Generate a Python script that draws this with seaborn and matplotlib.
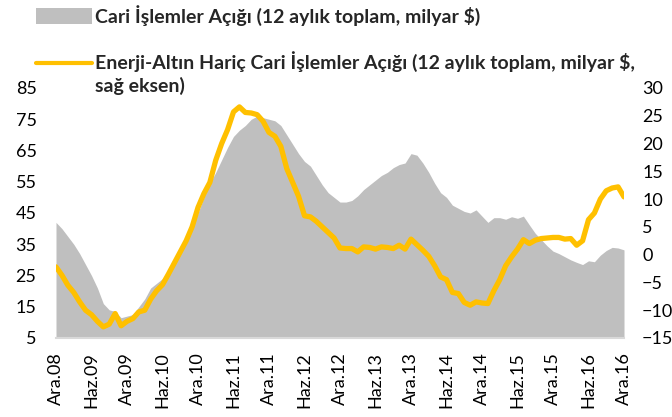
import numpy as np
import pandas as pd
import seaborn as sns
import matplotlib.pyplot as plt
from matplotlib.patches import Rectangle
from matplotlib.lines import Line2D

# months from Ara.08 (Dec 2008) to Ara.16 (Dec 2016)
tick_labels = ["Ara.08", "Haz.09", "Ara.09", "Haz.10", "Ara.10", "Haz.11", "Ara.11",
               "Haz.12", "Ara.12", "Haz.13", "Ara.13", "Haz.14", "Ara.14", "Haz.15",
               "Ara.15", "Haz.16", "Ara.16"]

# current account deficit, 12m sum, bn $ (left axis)
cari = [42, 40, 37.5, 35, 32, 28.5, 25, 21, 16, 14, 13.5, 11.5, 12, 12.5, 15, 17.5,
        21, 22.5, 24, 26.5, 30, 33, 36.5, 40, 45, 50, 54.5, 58, 62, 66, 69.5, 71.5,
        73, 75, 76, 75.5, 75, 74.5, 73, 70, 67, 64, 61.5, 60, 57, 54, 51.5, 50,
        48.5, 48.5, 49, 50.5, 52.5, 54, 55.5, 57, 58, 59.5, 60.5, 61, 64, 63.5, 61, 58,
        54.5, 51.5, 50, 47.5, 46.5, 45.5, 45, 46, 44, 42, 43.5, 43.5, 43, 43.8, 43.3, 44,
        41.2, 38.5, 36.5, 34.5, 32.8, 32, 31, 30, 29.2, 28.5, 29.7, 29.4, 31.5, 33, 34, 33.8,
        33.2]

# energy & gold excluded current account deficit, 12m sum, bn $ (right axis)
enerji = [-2.2, -3.7, -5.5, -6.8, -8.5, -10, -10.8, -12, -13, -12.5, -10.6, -12.8, -12, -11.5,
          -10.3, -10, -8, -6.5, -5.4, -3.5, -1.5, 0.5, 2.5, 5, 8.5, 11, 13, 17, 20, 22.5,
          25.7, 26.6, 25.6, 25.5, 25.2, 24, 22, 21.3, 19.5, 15.5, 13, 10.5, 7, 6.8, 6, 5,
          4, 3, 1.2, 1.1, 1.1, 0.5, 1.4, 1.3, 1, 1.4, 1.3, 1.1, 1.7, 1, 2.8, 1.8, 0.8, -0.3,
          -2, -4, -4.5, -6.8, -7, -8.6, -9.1, -8.5, -8.7, -8.8, -6.5, -4.5, -2, -0.4, 1, 2.7,
          2, 2.6, 2.9, 3, 3.1, 3.1, 2.8, 2.9, 1.7, 2.5, 6.3, 7.5, 10, 11.5, 12, 12.2, 10.4]

label_cari = "Cari İşlemler Açığı (12 aylık toplam, milyar $)"
label_enerji = "Enerji-Altın Hariç Cari İşlemler Açığı (12 aylık toplam, milyar $,\nsağ eksen)"

df = pd.DataFrame({"ay": np.arange(len(cari)), "cari": cari, "enerji": enerji})

GRAY = "#BFBFBF"
GOLD = "#FFC000"

sns.set_style("white")
plt.rcParams["font.family"] = ["Lato", "DejaVu Sans"]

W, H = 672, 417
fig = plt.figure(figsize=(W / 100, H / 100), dpi=100)
ax = fig.add_axes([56 / W, 1 - 338 / H, 568 / W, 250 / H])

ax.fill_between(df.ay, 5, df.cari, color=GRAY, linewidth=0)
ax.set_ylim(5, 85)
ax.set_yticks(range(5, 86, 10))
ax.set_xlim(0, len(cari) - 1)
ax.set_xticks(range(0, len(cari), 6))
ax.set_xticklabels(tick_labels, rotation=90)

ax2 = ax.twinx()
sns.lineplot(data=df, x="ay", y="enerji", ax=ax2, color=GOLD, linewidth=3.8)
ax2.set_ylim(-15, 30)
ax2.set_yticks(range(-15, 31, 5))
ax2.set_xlabel("")
ax2.set_ylabel("")
ax.set_xlabel("")

for a in (ax, ax2):
    for s in a.spines.values():
        s.set_visible(False)
    a.tick_params(length=0, labelsize=13, colors="black")
ax.tick_params(axis="y", pad=14)
ax.tick_params(axis="x", pad=10)
ax2.tick_params(axis="y", pad=13)
ax.spines["bottom"].set_visible(True)
ax.spines["bottom"].set_color("#D9D9D9")
ax.spines["bottom"].set_linewidth(1.5)

# legend drawn at the top of the figure
fig.patches.append(Rectangle((36 / W, 1 - 24 / H), 56 / W, 16 / H, transform=fig.transFigure,
                             facecolor=GRAY, edgecolor="none"))
fig.lines.append(Line2D([36 / W, 92 / W], [1 - 63 / H] * 2, transform=fig.transFigure,
                        color=GOLD, linewidth=3))
fig.text(95 / W, 1 - 16 / H, label_cari, va="center", ha="left", fontsize=14, fontweight="bold")
fig.text(95 / W, 1 - 51 / H, label_enerji, va="top", ha="left", fontsize=14,
         fontweight="bold", linespacing=1.3)

fig.savefig("out.png", dpi=100)
